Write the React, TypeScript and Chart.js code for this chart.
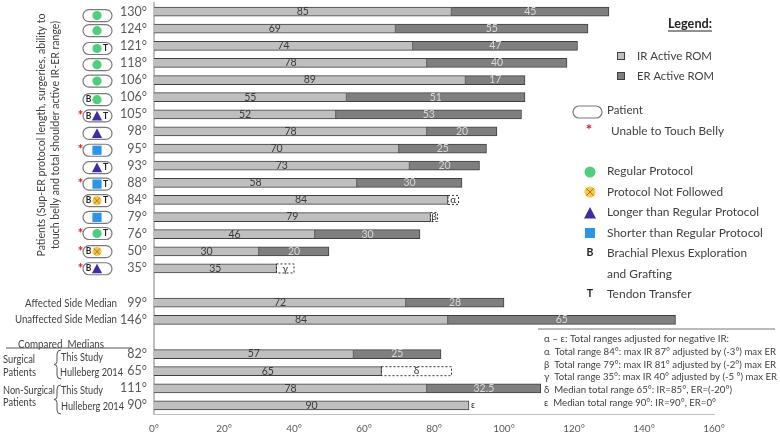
import React, { useEffect, useRef } from "react";
import { Chart, registerables } from "chart.js";

Chart.register(...registerables);

const totalLabels = ["130°","124°","121°","118°","106°","106°","105°","98°","95°","93°","88°","84°","79°","76°","50°","35°","","99°","146°","","82°","65°","111°","90°"];
const irValues = [85,69,74,78,89,55,52,78,70,73,58,84,79,46,30,35,null,72,84,null,57,65,78,90];
const erValues = [45,55,47,40,17,51,53,20,25,20,30,null,null,30,20,null,null,28,65,null,25,null,32.5,null];
const adjustedValues = [null,null,null,null,null,null,null,null,null,null,null,3,2,null,null,5,null,null,null,null,null,20,null,null];
const adjustedSymbols = ["","","","","","","","","","","","α","β","","","γ","","","","","","δ","",""];
const xTicks = [0,20,40,60,80,100,120,140,160];

// patient badges, one per patient row
const protocols = ["R","R","R","R","R","R","L","L","S","L","S","N","S","R","N","L"];
const plexusFlags = [0,0,0,0,0,1,1,0,0,0,0,1,0,0,1,1];
const tendonFlags = [0,0,1,0,0,0,1,0,0,1,1,1,0,1,0,0];
const bellyFlags = [0,0,0,0,0,0,1,0,1,0,1,0,0,1,1,1];
const badgeShift = [4,2,2.7,1.7,1,2.5,1.5,2,1.7,2,1.3,0.7,0.3,-0.7,0.3,0.3];

const IR = "#bfbfbf", ER = "#7f7f7f", EDGE = "#404040", TXT = "#404040";
const GREEN = "#4fce7c", ORANGE = "#f8c643", PURPLE = "#3b2da6", BLUE = "#2b95e9";
const FONT = "Lato, 'Open Sans', sans-serif";

type Ctx = CanvasRenderingContext2D;

function text(c: Ctx, s: string, x: number, y: number, size = 12, align: CanvasTextAlign = "left", color = TXT, weight = "normal", maxWidth?: number) {
  c.font = `${weight} ${size}px ${FONT}`;
  c.fillStyle = color;
  c.textAlign = align;
  c.textBaseline = "middle";
  if (maxWidth) c.fillText(s, x, y, maxWidth);
  else c.fillText(s, x, y);
}

function pill(c: Ctx, x0: number, x1: number, cy: number, h: number) {
  const r = h / 2;
  c.beginPath();
  c.roundRect(x0, cy - r, x1 - x0, h, r);
  c.fillStyle = "#fff";
  c.fill();
  c.lineWidth = 1.2;
  c.strokeStyle = "#7a7a7a";
  c.stroke();
}

function icon(c: Ctx, kind: string, x: number, y: number, r = 4.6) {
  c.beginPath();
  if (kind === "R" || kind === "N") {
    c.arc(x, y, r, 0, Math.PI * 2);
    c.fillStyle = kind === "R" ? GREEN : ORANGE;
    c.fill();
    if (kind === "N") {
      c.beginPath();
      const d = r * 0.68;
      c.moveTo(x - d, y - d); c.lineTo(x + d, y + d);
      c.moveTo(x + d, y - d); c.lineTo(x - d, y + d);
      c.lineWidth = 0.8;
      c.strokeStyle = "#7a6a30";
      c.stroke();
    }
  } else if (kind === "L") {
    c.moveTo(x, y - r - 0.5);
    c.lineTo(x + r + 0.5, y + r);
    c.lineTo(x - r - 0.5, y + r);
    c.closePath();
    c.fillStyle = PURPLE;
    c.fill();
  } else {
    c.fillStyle = BLUE;
    c.fillRect(x - r, y - r, r * 2, r * 2);
  }
}

function brace(c: Ctx, x: number, y0: number, y1: number) {
  const mid = (y0 + y1) / 2;
  c.beginPath();
  c.moveTo(x + 4, y0);
  c.quadraticCurveTo(x, y0, x, y0 + 4);
  c.lineTo(x, mid - 3);
  c.quadraticCurveTo(x, mid, x - 3, mid);
  c.quadraticCurveTo(x, mid, x, mid + 3);
  c.lineTo(x, y1 - 4);
  c.quadraticCurveTo(x, y1, x + 4, y1);
  c.lineWidth = 1;
  c.strokeStyle = "#555";
  c.stroke();
}

const noteLines = [
  "α – ε: Total ranges adjusted for negative IR:",
  "α  Total range 84°: max IR 87° adjusted by (-3°) max ER",
  "β  Total range 79°: max IR 81° adjusted by (-2°) max ER",
  "γ  Total range 35°: max IR 40° adjusted by (-5 °) max ER",
  "δ  Median total range 65°: IR=85°, ER=(-20°)",
  "ε  Median total range 90°: IR=90°, ER=0°",
];
const noteWidths = [185, 232, 232, 233, 188, 172];

const overlay = {
  id: "overlay",
  afterDatasetsDraw(chart: any) {
    const c: Ctx = chart.ctx;
    const yS = chart.scales.y;
    const xS = chart.scales.x;
    c.save();

    // dashed adjusted-range boxes and their symbols
    chart.getDatasetMeta(2).data.forEach((bar: any, i: number) => {
      if (adjustedValues[i] == null) return;
      c.setLineDash([2, 2]);
      c.lineWidth = 1;
      c.strokeStyle = "#333";
      c.strokeRect(bar.base, bar.y - 4.5, bar.x - bar.base, 9);
      c.setLineDash([]);
      text(c, adjustedSymbols[i], (bar.x + bar.base) / 2, bar.y, 10, "center", "#333");
    });
    text(c, "ε", xS.getPixelForValue(90) + 2, yS.getPixelForValue(23), 9, "left", "#333");

    // value labels
    chart.getDatasetMeta(0).data.forEach((bar: any, i: number) => {
      if (irValues[i] != null) text(c, String(irValues[i]), (bar.x + bar.base) / 2, bar.y, 10.5, "center", "#3a3a3a");
    });
    chart.getDatasetMeta(1).data.forEach((bar: any, i: number) => {
      if (erValues[i] != null) text(c, String(erValues[i]), (bar.x + bar.base) / 2, bar.y, 10.5, "center", "#d8d8d8");
    });

    // patient badges
    protocols.forEach((p, i) => {
      const y = yS.getPixelForValue(i) + badgeShift[i];
      pill(c, 83, 112, y, 12);
      icon(c, p, 97, y);
      if (plexusFlags[i]) text(c, "B", 88.5, y, 8.5, "center", "#222", "bold");
      if (tendonFlags[i]) text(c, "T", 105.5, y, 8.5, "center", "#222", "bold");
      if (bellyFlags[i]) text(c, "*", 80.5, y, 13, "center", "#e8141c", "bold");
    });

    // rotated axis title
    c.save();
    c.translate(41, 135);
    c.rotate(-Math.PI / 2);
    text(c, "Patients (Sup-ER protocol length, surgeries, ability to", 0, 0, 11, "center", TXT, "normal", 243);
    text(c, "touch belly and total shoulder active IR-ER range)", 0, 14, 11, "center", TXT, "normal", 228);
    c.restore();

    // left-hand group labels
    text(c, "Affected Side Median", 117, 304, 10.5, "right", TXT, "normal", 92);
    text(c, "Unaffected Side Median", 117, 320, 10.5, "right", TXT, "normal", 102);
    text(c, "Compared  Medians", 18, 345, 10.5, "left", TXT, "normal", 86);
    c.beginPath(); c.moveTo(6, 348); c.lineTo(132, 348);
    c.lineWidth = 1; c.strokeStyle = "#555"; c.stroke();
    text(c, "Surgical", 3, 360, 10.5, "left", TXT, "normal", 32);
    text(c, "Patients", 3, 373, 10.5, "left", TXT, "normal", 33);
    text(c, "Non-Surgical", 3, 391, 10.5, "left", TXT, "normal", 52);
    text(c, "Patients", 3, 403, 10.5, "left", TXT, "normal", 33);
    text(c, "This Study", 61, 358, 10.5, "left", TXT, "normal", 42);
    text(c, "Hulleberg 2014", 60, 373, 10.5, "left", TXT, "normal", 63);
    text(c, "This Study", 61, 391, 10.5, "left", TXT, "normal", 42);
    text(c, "Hulleberg 2014", 61, 407, 10.5, "left", TXT, "normal", 63);
    brace(c, 57, 350, 379);
    brace(c, 57, 385, 414);

    // legend
    text(c, "Legend:", 668, 24, 13.5, "left", "#222", "bold", 44);
    c.beginPath(); c.moveTo(668, 31); c.lineTo(712, 31);
    c.lineWidth = 1; c.strokeStyle = "#222"; c.stroke();
    const swatch = (color: string, y: number) => {
      c.fillStyle = color; c.fillRect(617.5, y - 3.5, 7, 7);
      c.lineWidth = 1; c.strokeStyle = EDGE; c.strokeRect(617.5, y - 3.5, 7, 7);
    };
    swatch(IR, 56); swatch(ER, 76);
    text(c, "IR Active ROM", 637, 56, 12, "left", TXT, "normal", 75);
    text(c, "ER Active ROM", 637, 76, 12, "left", TXT, "normal", 77);
    pill(c, 573, 602, 112, 12);
    text(c, "Patient", 607, 110, 11.5);
    text(c, "*", 589, 130, 15, "center", "#e8141c", "bold");
    text(c, "Unable to Touch Belly", 611, 131, 12, "left", TXT, "normal", 113);
    icon(c, "R", 590, 172, 5.5);
    text(c, "Regular Protocol", 607, 171, 12, "left", TXT, "normal", 86);
    icon(c, "N", 590, 192, 5.5);
    text(c, "Protocol Not Followed", 607, 192, 12, "left", TXT, "normal", 116);
    icon(c, "L", 590, 213, 5.5);
    text(c, "Longer than Regular Protocol", 607, 212, 12, "left", TXT, "normal", 152);
    icon(c, "S", 590, 233, 5);
    text(c, "Shorter than Regular Protocol", 607, 233, 12, "left", TXT, "normal", 156);
    text(c, "B", 590, 253, 10.5, "center", "#222", "bold");
    text(c, "Brachial Plexus Exploration", 607, 253, 12, "left", TXT, "normal", 140);
    text(c, "and Grafting", 607, 274, 12, "left", TXT, "normal", 65);
    text(c, "T", 590, 294, 10.5, "center", "#222", "bold");
    text(c, "Tendon Transfer", 607, 294, 12, "left", TXT, "normal", 86);

    // footnotes
    c.beginPath(); c.moveTo(538, 329); c.lineTo(775, 329);
    c.lineWidth = 1; c.strokeStyle = "#777"; c.stroke();
    noteLines.forEach((s, i) => text(c, s, 544, 339 + i * 12.7, 10, "left", TXT, "normal", noteWidths[i]));

    c.restore();
  },
};

export default function App() {
  const ref = useRef<HTMLCanvasElement>(null);
  useEffect(() => {
    const chart = new Chart(ref.current!, {
      type: "bar",
      data: {
        labels: totalLabels,
        datasets: [
          { label: "IR Active ROM", data: irValues, backgroundColor: IR, borderColor: EDGE, borderWidth: 1, barThickness: 9, stack: "s" },
          { label: "ER Active ROM", data: erValues, backgroundColor: ER, borderColor: EDGE, borderWidth: 1, barThickness: 9, stack: "s" },
          { label: "Adjusted", data: adjustedValues, backgroundColor: "rgba(0,0,0,0)", borderWidth: 0, barThickness: 9, stack: "s" },
        ],
      } as any,
      options: {
        indexAxis: "y",
        animation: false,
        responsive: false,
        layout: { padding: { left: 0, top: 3, right: 66, bottom: 0 } },
        plugins: { legend: { display: false }, tooltip: { enabled: false } },
        scales: {
          x: {
            type: "linear",
            stacked: true,
            min: 0,
            max: 160,
            afterBuildTicks: (s: any) => { s.ticks = xTicks.map((value) => ({ value })); },
            afterFit: (s: any) => { s.height = 20; s.paddingLeft = 0; s.paddingRight = 0; },
            grid: { display: false, drawTicks: false },
            border: { display: true, color: "#bfbfbf", width: 1 },
            ticks: { color: "#595959", padding: 9, maxRotation: 0, font: { family: FONT, size: 10 }, callback: (v: any) => `${v}°` },
          },
          y: {
            stacked: true,
            afterFit: (s: any) => { s.width = 154; s.paddingTop = 0; s.paddingBottom = 0; },
            grid: { display: false, drawTicks: false },
            border: { display: true, color: "#bfbfbf", width: 2 },
            ticks: { color: "#595959", padding: 7, autoSkip: false, font: { family: FONT, size: 12.5 } },
          },
        },
      } as any,
      plugins: [overlay],
    });
    return () => chart.destroy();
  }, []);
  return (
    <div style={{ position: "fixed", left: 0, top: 0, width: 780, height: 434, background: "#fff" }}>
      <canvas ref={ref} width={780} height={434} style={{ display: "block", width: 780, height: 434 }} />
    </div>
  );
}
